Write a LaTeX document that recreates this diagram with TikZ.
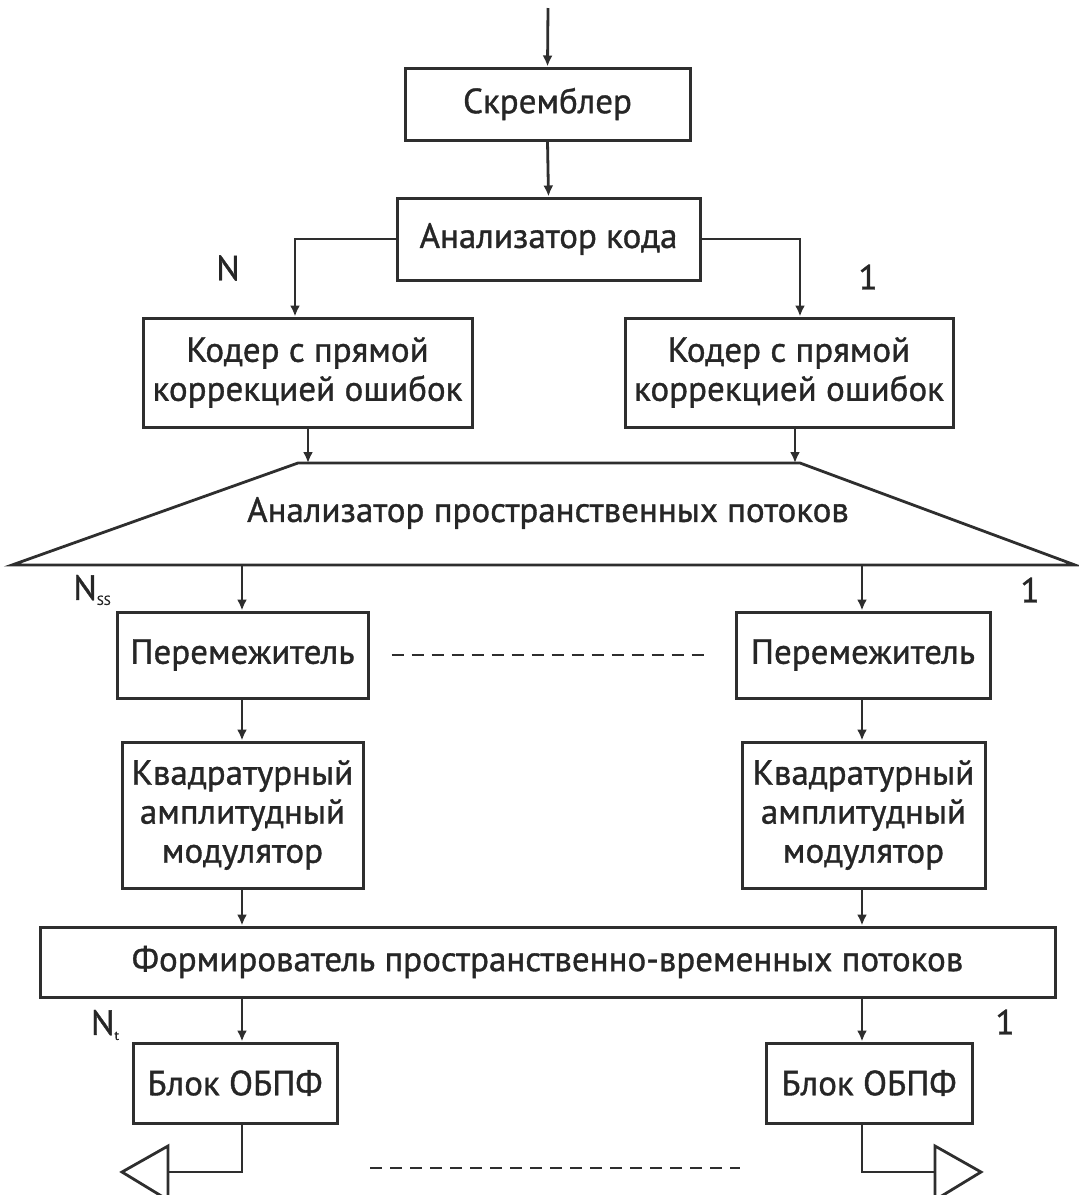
\documentclass[tikz,border=0pt]{standalone}
\usepackage{fontspec}
\setmainfont{PT Sans}[FakeBold=1]
\usetikzlibrary{arrows.meta}
\definecolor{ln}{HTML}{2E2E2E}
\definecolor{tx}{HTML}{262626}
\newcommand{\fsz}{\fontsize{35}{39}\selectfont}
\begin{document}
\begin{tikzpicture}[x=1pt,y=-1pt,
  box/.style={draw=ln, line width=3pt, fill=white, align=center, inner sep=0pt, text=tx, font=\fsz},
  arr/.style={draw=ln, line width=2.8pt, -{Latex[length=11pt,width=10pt]}},
  wire/.style={draw=ln, line width=2.8pt},
  dsh/.style={draw=ln, line width=2.6pt, dash pattern=on 12pt off 8pt},
  lbl/.style={text=tx, font=\fsz, inner sep=0pt}]
\useasboundingbox (0,0) rectangle (1079,1195);
\coordinate (cl) at (242,0);
\coordinate (cr) at (862,0);
% top input
\coordinate (in) at (548,8);
\node[box, minimum width=285, minimum height=72] (scr) at (547.5,104) {Скремблер};
\node[box, minimum width=303, minimum height=82] (ana) at (548.5,239) {Анализатор кода};
\node[box, minimum width=329, minimum height=109] (kl) at (307.5,372.5) {Кодер с прямой\\коррекцией ошибок};
\node[box, minimum width=328, minimum height=109] (kr) at (789,372.5) {Кодер с прямой\\коррекцией ошибок};
\draw[arr] (in) -- (scr.north);
\draw[arr] (scr.south) -- (ana.north);
\coordinate (kla) at (295,0);
\coordinate (kra) at (800,0);
\draw[arr] (ana.west) -| (kl.north -| kla);
\draw[arr] (ana.east) -| (kr.north -| kra);
\node[lbl] (lN) at (228,268) {N};
\node[lbl] (l1a) at (868,277) {1};
% trapezoid
\coordinate (tTL) at (298,463);
\coordinate (tTR) at (800,463);
\coordinate (tBR) at (1075,565);
\coordinate (tBL) at (12,565);
\draw[wire, line join=miter] (tTL) -- (tTR) -- (tBR) -- (tBL) -- cycle;
\node[lbl] (trap) at (548,513) {Анализатор пространственных потоков};
\coordinate (kla2) at (308,0);
\coordinate (kra2) at (795,0);
\draw[arr] (kl.south -| kla2) -- (tTL -| kla2);
\draw[arr] (kr.south -| kra2) -- (tTL -| kra2);
% interleavers
\node[box, minimum width=251, minimum height=86] (pl) at (242.5,655) {Перемежитель};
\node[box, minimum width=254, minimum height=86] (pr) at (863,655) {Перемежитель};
\draw[arr] (tBL -| cl) -- (pl.north -| cl);
\draw[arr] (tBL -| cr) -- (pr.north -| cr);
\node[lbl] (lNss) at (92,590) {N{\fontsize{13}{13}\selectfont\raisebox{-5pt}{SS}}};
\node[lbl] (l1b) at (1030,590) {1};
\draw[dsh] ([xshift=22pt]pl.east) -- ([xshift=-31pt]pr.west);
% QAM
\node[box, minimum width=241, minimum height=146] (ql) at (242.5,815) {Квадратурный\\амплитудный\\модулятор};
\node[box, minimum width=243, minimum height=146] (qr) at (863.5,815) {Квадратурный\\амплитудный\\модулятор};
\draw[arr] (pl.south -| cl) -- (ql.north -| cl);
\draw[arr] (pr.south -| cr) -- (qr.north -| cr);
% former
\node[box, minimum width=1015, minimum height=70] (form) at (547.5,962) {Формирователь пространственно-временных потоков};
\draw[arr] (ql.south -| cl) -- (form.north -| cl);
\draw[arr] (qr.south -| cr) -- (form.north -| cr);
% IFFT
\node[box, minimum width=204, minimum height=80] (bl) at (235,1083) {Блок ОБПФ};
\node[box, minimum width=206, minimum height=80] (br) at (869,1083) {Блок ОБПФ};
\draw[arr] (form.south -| cl) -- (bl.north -| cl);
\draw[arr] (form.south -| cr) -- (br.north -| cr);
\node[lbl] (lNt) at (105,1025) {N{\fontsize{13}{13}\selectfont\raisebox{-5pt}{t}}};
\node[lbl] (l1c) at (1005,1022) {1};
% antennas
\coordinate (aL) at (168,1172);
\coordinate (aR) at (935,1172);
\draw[wire] (bl.south -| cl) |- (aL);
\draw[wire] (br.south -| cr) |- (aR);
\draw[wire, line join=miter] (168,1146) -- (168,1200) -- (122,1172) -- cycle;
\draw[wire, line join=miter] (935,1146) -- (935,1200) -- (981,1172) -- cycle;
\draw[dsh] (370,1168) -- (740,1168);
\end{tikzpicture}
\end{document}
